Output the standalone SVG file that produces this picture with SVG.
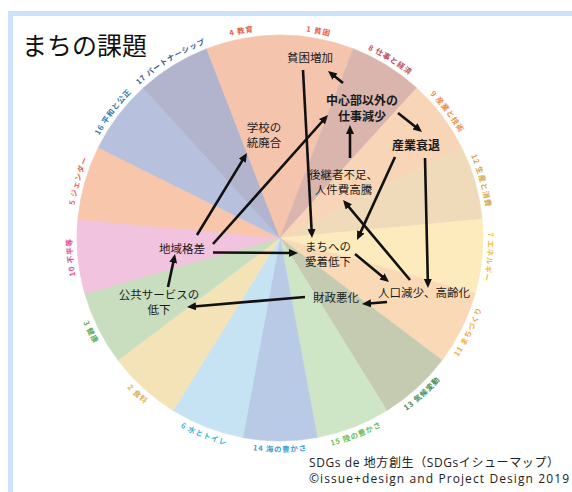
<svg xmlns="http://www.w3.org/2000/svg" xmlns:xlink="http://www.w3.org/1999/xlink" width="572" height="492" viewBox="0 0 572 492">
  <defs>
    <style>
      .jp { font-family: "Noto Sans CJK JP", "Noto Sans", sans-serif; }
      .node { font-family: "Noto Sans CJK JP", "Noto Sans", sans-serif; font-size: 11.5px; fill: #1a1a1a; text-anchor: middle; }
      .bold { font-weight: bold; font-size: 12px; }
      .lab { font-family: "Noto Sans CJK JP", "Noto Sans", sans-serif; font-size: 7.5px; font-weight: bold; letter-spacing: 0.8px; text-anchor: middle; }
      .conn line { stroke: #111; stroke-width: 2.6; fill: none; marker-end: url(#ah); }
      .foot { font-family: "Open Sans", "Noto Sans CJK JP", sans-serif; font-size: 12px; fill: #222; }
    </style>
    <marker id="ah" markerUnits="userSpaceOnUse" markerWidth="10" markerHeight="9" refX="5" refY="4" orient="auto">
      <path d="M0,0 L9,4 L0,8 Z" fill="#111"/>
    </marker>
    <path id="cw" d="M280,446 A208,208 0 1 1 280,30 A208,208 0 1 1 280,446"/>
    <path id="ccw" d="M280,24 A214,214 0 1 0 280,452 A214,214 0 1 0 280,24"/>
  </defs>

  <rect x="0" y="0" width="572" height="492" fill="#ffffff"/>
  <rect x="10.5" y="13.5" width="620" height="600" fill="#ffffff" stroke="#cde3fa" stroke-width="5"/>

  <g id="wheel" stroke-width="0.6">
    <path d="M280,238 L280,35 A203,203 0 0 1 353.32,48.70 Z" fill="#f5c4ad" stroke="#f5c4ad"/>
    <path d="M280,238 L353.32,48.70 A203,203 0 0 1 416.76,87.98 Z" fill="#d9b5ae" stroke="#d9b5ae"/>
    <path d="M280,238 L416.76,87.98 A203,203 0 0 1 461.73,147.52 Z" fill="#f9d5b7" stroke="#f9d5b7"/>
    <path d="M280,238 L461.73,147.52 A203,203 0 0 1 482.13,219.26 Z" fill="#efdbb9" stroke="#efdbb9"/>
    <path d="M280,238 L482.13,219.26 A203,203 0 0 1 475.25,293.56 Z" fill="#fdebbd" stroke="#fdebbd"/>
    <path d="M280,238 L475.25,293.56 A203,203 0 0 1 441.99,360.33 Z" fill="#fadab6" stroke="#fadab6"/>
    <path d="M280,238 L441.99,360.33 A203,203 0 0 1 386.86,410.59 Z" fill="#c4cbb0" stroke="#c4cbb0"/>
    <path d="M280,238 L386.86,410.59 A203,203 0 0 1 317.29,437.55 Z" fill="#cfe6c6" stroke="#cfe6c6"/>
    <path d="M280,238 L317.29,437.55 A203,203 0 0 1 242.71,437.55 Z" fill="#b9cae6" stroke="#b9cae6"/>
    <path d="M280,238 L242.71,437.55 A203,203 0 0 1 173.14,410.59 Z" fill="#c6e3f3" stroke="#c6e3f3"/>
    <path d="M280,238 L173.14,410.59 A203,203 0 0 1 118.01,360.33 Z" fill="#f5e3b8" stroke="#f5e3b8"/>
    <path d="M280,238 L118.01,360.33 A203,203 0 0 1 84.75,293.56 Z" fill="#c9ddbf" stroke="#c9ddbf"/>
    <path d="M280,238 L84.75,293.56 A203,203 0 0 1 77.87,219.26 Z" fill="#f2c3de" stroke="#f2c3de"/>
    <path d="M280,238 L77.87,219.26 A203,203 0 0 1 98.27,147.52 Z" fill="#f7c6ab" stroke="#f7c6ab"/>
    <path d="M280,238 L98.27,147.52 A203,203 0 0 1 143.24,87.98 Z" fill="#b7c1dd" stroke="#b7c1dd"/>
    <path d="M280,238 L143.24,87.98 A203,203 0 0 1 206.68,48.70 Z" fill="#b2b3cc" stroke="#b2b3cc"/>
    <path d="M280,238 L206.68,48.70 A203,203 0 0 1 280,35 Z" fill="#f5c4ad" stroke="#f5c4ad"/>
  </g>

  <g id="goal-labels" class="lab">
    <text fill="#e8604a"><textPath xlink:href="#cw" href="#cw" startOffset="52.94%">1 貧困</textPath></text>
    <text fill="#c24d6a"><textPath xlink:href="#cw" href="#cw" startOffset="58.82%">8 仕事と経済</textPath></text>
    <text fill="#f08a4b"><textPath xlink:href="#cw" href="#cw" startOffset="64.71%">9 産業と技術</textPath></text>
    <text fill="#d4a84a"><textPath xlink:href="#cw" href="#cw" startOffset="70.59%">12 生産と消費</textPath></text>
    <text fill="#f2c040"><textPath xlink:href="#cw" href="#cw" startOffset="76.47%">7 エネルギー</textPath></text>
    <text fill="#f3a845"><textPath xlink:href="#ccw" href="#ccw" startOffset="67.65%">11 まちづくり</textPath></text>
    <text fill="#4c8c58"><textPath xlink:href="#ccw" href="#ccw" startOffset="61.76%">13 気候変動</textPath></text>
    <text fill="#6cc050"><textPath xlink:href="#ccw" href="#ccw" startOffset="55.88%">15 陸の豊かさ</textPath></text>
    <text fill="#3a9fd8"><textPath xlink:href="#ccw" href="#ccw" startOffset="50%">14 海の豊かさ</textPath></text>
    <text fill="#3fb6e0"><textPath xlink:href="#ccw" href="#ccw" startOffset="44.12%">6 水とトイレ</textPath></text>
    <text fill="#e2b14e"><textPath xlink:href="#ccw" href="#ccw" startOffset="38.24%">2 食料</textPath></text>
    <text fill="#5aae55"><textPath xlink:href="#ccw" href="#ccw" startOffset="32.35%">3 健康</textPath></text>
    <text fill="#e04d8f"><textPath xlink:href="#cw" href="#cw" startOffset="23.53%">10 不平等</textPath></text>
    <text fill="#f0654c"><textPath xlink:href="#cw" href="#cw" startOffset="29.41%">5 ジェンダー</textPath></text>
    <text fill="#2e76b0"><textPath xlink:href="#cw" href="#cw" startOffset="35.29%">16 平和と公正</textPath></text>
    <text fill="#2f5a88"><textPath xlink:href="#cw" href="#cw" startOffset="41.18%">17 パートナーシップ</textPath></text>
    <text fill="#e0604e"><textPath xlink:href="#cw" href="#cw" startOffset="47.06%">4 教育</textPath></text>
  </g>

  <text id="title" class="jp" x="22" y="54.5" font-size="25" fill="#111">まちの課題</text>

  <g id="connectors" class="conn">
    <line x1="343" y1="83" x2="331.1" y2="73.5"/>
    <line x1="303" y1="70" x2="311.8" y2="234"/>
    <line x1="398" y1="113" x2="418.9" y2="129.5"/>
    <line x1="350" y1="158" x2="350" y2="129"/>
    <line x1="213" y1="244" x2="325.3" y2="118"/>
    <line x1="197" y1="235" x2="244.9" y2="156.4"/>
    <line x1="213" y1="252.5" x2="294" y2="253"/>
    <line x1="168" y1="287" x2="174.2" y2="257.9"/>
    <line x1="305" y1="297" x2="191" y2="306.7"/>
    <line x1="387" y1="302" x2="366" y2="303.7"/>
    <line x1="355" y1="254" x2="385.9" y2="279.5"/>
    <line x1="410" y1="280" x2="345.6" y2="203.1"/>
    <line x1="425" y1="158" x2="427.9" y2="284"/>
    <line x1="395" y1="157" x2="358.7" y2="236.4"/>
  </g>

  <g id="n-poverty"><text class="node" x="310" y="61.5">貧困増加</text></g>
  <g id="n-jobs"><text class="node bold" x="362" y="105">中心部以外の</text><text class="node bold" x="362" y="120.5">仕事減少</text></g>
  <g id="n-industry"><text class="node bold" x="416" y="149.5">産業衰退</text></g>
  <g id="n-school"><text class="node" x="264" y="131.5">学校の</text><text class="node" x="264" y="146.5">統廃合</text></g>
  <g id="n-successor"><text class="node" x="343.5" y="178.5">後継者不足、</text><text class="node" x="343.5" y="193.5">人件費高騰</text></g>
  <g id="n-attachment"><text class="node" x="328" y="250.5">まちへの</text><text class="node" x="328" y="265.5">愛着低下</text></g>
  <g id="n-population"><text class="node" x="424" y="296.5">人口減少、高齢化</text></g>
  <g id="n-finance"><text class="node" x="336" y="301.5">財政悪化</text></g>
  <g id="n-regional"><text class="node" x="182" y="252.5">地域格差</text></g>
  <g id="n-public"><text class="node" x="159" y="298.5">公共サービスの</text><text class="node" x="159" y="313.5">低下</text></g>

  <g id="footer">
    <text class="foot" x="309" y="466.5" textLength="250" lengthAdjust="spacing">SDGs de 地方創生（SDGsイシューマップ）</text>
    <text class="foot" x="309" y="482.5" textLength="260" lengthAdjust="spacing">©issue+design and Project Design 2019</text>
  </g>
</svg>
